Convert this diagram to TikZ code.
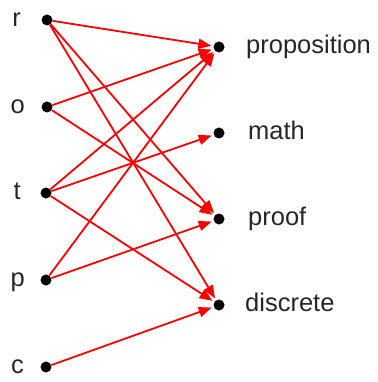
\documentclass[tikz,border=0pt]{standalone}
\usepackage{fontspec}
\setmainfont{Liberation Sans}
\usetikzlibrary{arrows.meta}
\begin{document}
\begin{tikzpicture}[x=1pt,y=-1pt,
  dot/.style={circle,fill=black,inner sep=0pt,minimum size=11pt},
  lbl/.style={font=\fontsize{25.5}{30}\selectfont,text=black!85,inner sep=0pt},
  link/.style={draw=red,line width=1.8pt,-{Triangle[length=13pt,width=10pt]},shorten >=2pt}]
\useasboundingbox (0,0) rectangle (377,382);
% left nodes
\node[dot] (r) at (47,20) {};
\node[dot] (o) at (47,107) {};
\node[dot] (t) at (46,193) {};
\node[dot] (p) at (46,280) {};
\node[dot] (c) at (46,367) {};
% right nodes
\node[dot] (prop) at (219,47) {};
\node[dot] (math) at (219,133) {};
\node[dot] (proof) at (219,219) {};
\node[dot] (disc) at (219,305) {};
% labels
\node[lbl,anchor=mid east] (lr) at (21,24) {r};
\node[lbl,anchor=mid east] (lo) at (25,111) {o};
\node[lbl,anchor=mid east] (lt) at (21,197) {t};
\node[lbl,anchor=mid east] (lp) at (25,284) {p};
\node[lbl,anchor=mid east] (lc) at (24,371) {c};
\node[lbl,anchor=mid west] (lprop) at (246,51) {proposition};
\node[lbl,anchor=mid west] (lmath) at (248,137) {math};
\node[lbl,anchor=mid west] (lproof) at (248,223) {proof};
\node[lbl,anchor=mid west] (ldisc) at (245,309) {discrete};
% edges
\draw[link] (r) -- (prop);
\draw[link] (r) -- (proof);
\draw[link] (r) -- (disc);
\draw[link] (o) -- (prop);
\draw[link] (o) -- (proof);
\draw[link] (t) -- (prop);
\draw[link] (t) -- (math);
\draw[link] (t) -- (disc);
\draw[link] (p) -- (prop);
\draw[link] (p) -- (proof);
\draw[link] (c) -- (disc);
\end{tikzpicture}
\end{document}
